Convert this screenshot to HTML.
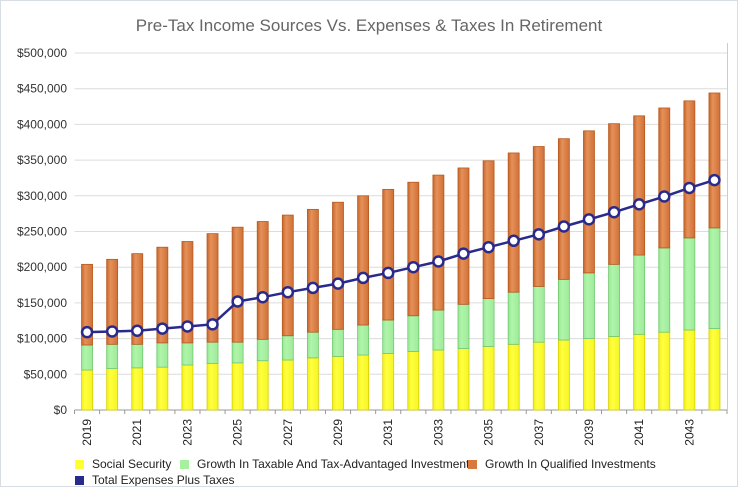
<!DOCTYPE html>
<html><head><meta charset="utf-8"><style>
body{margin:0;background:#fff;}
#wrap{position:relative;width:736px;height:485px;border:1px solid #d8dde3;overflow:hidden;font-family:"Liberation Sans",sans-serif;}
.leg{position:absolute;font-size:12px;color:#222;display:flex;align-items:center;}
.sw{width:9px;height:9px;margin-right:8px;display:inline-block;}
</style></head><body>
<div id="wrap">
<svg id="chart" width="736" height="485">
<defs>
<linearGradient id="go" x1="0" x2="1"><stop offset="0" stop-color="#c8672c"/><stop offset="0.35" stop-color="#e5915a"/><stop offset="1" stop-color="#cf7036"/></linearGradient>
<linearGradient id="gy" x1="0" x2="1"><stop offset="0" stop-color="#f2f01a"/><stop offset="0.35" stop-color="#ffff40"/><stop offset="1" stop-color="#f5f522"/></linearGradient>
<linearGradient id="gg" x1="0" x2="1"><stop offset="0" stop-color="#98e896"/><stop offset="0.35" stop-color="#b0f5aa"/><stop offset="1" stop-color="#9eea9a"/></linearGradient>
</defs>
<text x="368" y="30" text-anchor="middle" font-size="17" fill="#666">Pre-Tax Income Sources Vs. Expenses &amp; Taxes In Retirement</text>
</svg>
<div class="leg" style="left:74px;top:456px"><span class="sw" style="background:#ffff33"></span>Social Security</div>
<div class="leg" style="left:179px;top:456px"><span class="sw" style="background:#a6f0a0"></span>Growth In Taxable And Tax-Advantaged Investments</div>
<div class="leg" style="left:467px;top:456px"><span class="sw" style="background:#d9783c"></span>Growth In Qualified Investments</div>
<div class="leg" style="left:74px;top:472px"><span class="sw" style="background:#2a2a8c"></span>Total Expenses Plus Taxes</div>
</div>
<script>
const years=[2019,2020,2021,2022,2023,2024,2025,2026,2027,2028,2029,2030,2031,2032,2033,2034,2035,2036,2037,2038,2039,2040,2041,2042,2043,2044];
const socialSecurity=[56,58,59,60,63,65,66,69,70,73,75,77,79,82,84,86,89,92,95,98,100,103,106,109,112,114];
const taxableGrowth=[35,34,33,34,31,30,29,30,34,36,38,42,47,50,56,62,67,73,78,85,92,101,111,118,129,141];
const qualifiedGrowth=[113,119,127,134,142,152,161,165,169,172,178,181,183,187,189,191,193,195,196,197,199,197,195,196,192,189];
const totalExpenses=[109,110,111,114,117,120,152,158,165,171,177,185,192,200,208,219,228,237,246,257,267,277,288,299,311,322];
const yTicks=[0,50,100,150,200,250,300,350,400,450,500];
const yTickLabels=["$0","$50,000","$100,000","$150,000","$200,000","$250,000","$300,000","$350,000","$400,000","$450,000","$500,000"];
const NS="http://www.w3.org/2000/svg";
const svg=document.getElementById('chart');
const L=73.5,R=726,T=52,B=409;
const band=(R-L)/years.length;
const xc=i=>L+band*(i+0.5);
const y=v=>B-(v/500)*(B-T);
function mk(t,a){const e=document.createElementNS(NS,t);for(const k in a)e.setAttribute(k,a[k]);svg.appendChild(e);return e;}
yTicks.forEach((v,i)=>{
 const g=mk('line',{x1:L,x2:R,y1:y(v),y2:y(v),stroke:i==0?'#999':'#dcdcdc','stroke-width':1});
 
 
 const t=mk('text',{x:66,y:y(v)+4,'text-anchor':'end','font-size':12,fill:'#333'});
 t.textContent=yTickLabels[i];
 
 
});
const ra=mk('line',{x1:R+0.5,x2:R+0.5,y1:T-10,y2:B,stroke:'#ccc'});


for(let i=0;i<=years.length;i++){
 const tk=mk('line',{x1:L+band*i,x2:L+band*i,y1:B,y2:B+4,stroke:'#999'});
 
 
}
const bw=11;
years.forEach((yr,i)=>{
 const x=xc(i)-bw/2;
 const s=[[0,socialSecurity[i],'url(#gy)','#d8d000','bar-social-security'],
  [socialSecurity[i],socialSecurity[i]+taxableGrowth[i],'url(#gg)','#70c870','bar-taxable-growth'],
  [socialSecurity[i]+taxableGrowth[i],socialSecurity[i]+taxableGrowth[i]+qualifiedGrowth[i],'url(#go)','#b85a20','bar-qualified-growth']];
 s.forEach(d=>{
  const r=mk('rect',{x:x,y:y(d[1]),width:bw,height:y(d[0])-y(d[1]),fill:d[2],stroke:d[3],'stroke-width':0.8});
  
  
 });
 if(i%2==0){
  const t=mk('text',{'font-size':12,fill:'#222','text-anchor':'end',transform:`translate(${xc(i)+4},418) rotate(-90)`});
  t.textContent=yr;
  
  
 }
});
const pl=mk('polyline',{points:totalExpenses.map((v,i)=>xc(i)+','+y(v)).join(' '),fill:'none',stroke:'#2a2a8c','stroke-width':2.5});


totalExpenses.forEach((v,i)=>{
 const c=mk('circle',{cx:xc(i),cy:y(v),r:5,fill:'#fff',stroke:'#2a2a8c','stroke-width':2.5});
 
 
});
</script>
</body></html>
